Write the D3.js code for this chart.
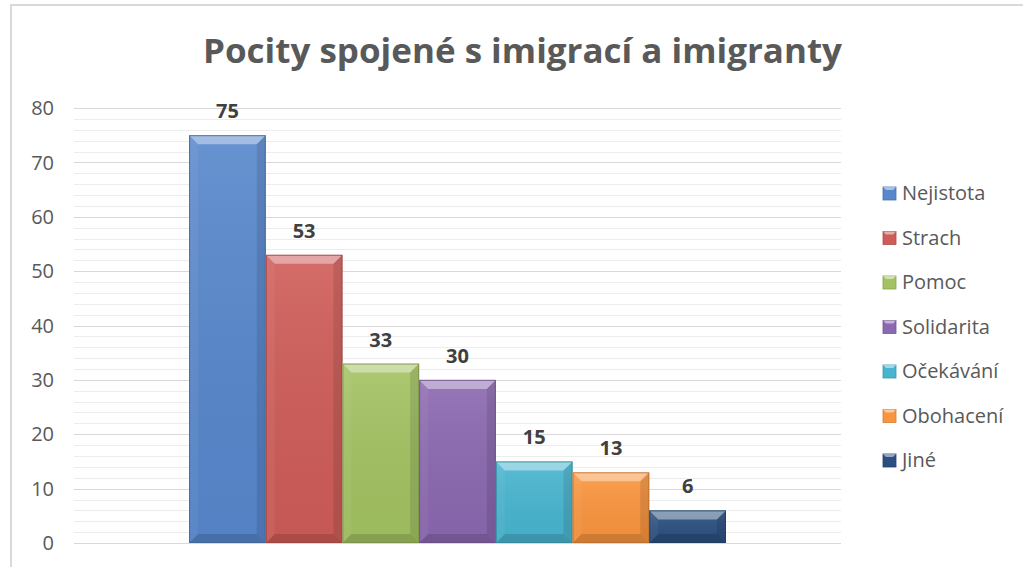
<!DOCTYPE html>
<meta charset="utf-8">
<style>
  body { margin: 0; background: #fff; }
  text { font-family: "Open Sans", "Liberation Sans", sans-serif; }
</style>
<body>
<script src="https://cdn.jsdelivr.net/npm/d3@7"></script>
<script>

// data
var categories = ["Nejistota", "Strach", "Pomoc", "Solidarita", "Očekávání", "Obohacení", "Jiné"];
var values = [75, 53, 33, 30, 15, 13, 6];
var colors = ["#5787cc", "#cf5c58", "#a3c262", "#8b68b0", "#48b5d0", "#fa953e", "#2b5080"];
var yTicks = [0, 10, 20, 30, 40, 50, 60, 70, 80];

var width = 1023, height = 567;

var svg = d3.select("body").append("svg")
    .attr("width", width)
    .attr("height", height);

svg.append("rect")
    .attr("width", width).attr("height", height)
    .attr("fill", "#fff");

// chart frame
svg.append("rect")
    .attr("x", 11).attr("y", 5)
    .attr("width", 1040).attr("height", 620)
    .attr("fill", "none")
    .attr("stroke", "#d9d9d9")
    .attr("stroke-width", 2);

svg.append("text")
    .attr("x", 203).attr("y", 63)
    .attr("textLength", 639)
    .attr("lengthAdjust", "spacingAndGlyphs")
    .attr("font-size", 34)
    .attr("font-weight", "bold")
    .attr("fill", "#595959")
    .text("Pocity spojené s imigrací a imigranty");

var plotLeft = 74, plotRight = 841, plotTop = 108, plotBottom = 543;

var y = d3.scaleLinear().domain([0, 80]).range([plotBottom, plotTop]);
var x = d3.scaleBand().domain(categories).range([plotLeft, plotRight])
    .paddingInner(0).paddingOuter(1.5);

// minor + major grid
svg.append("g").selectAll("line")
    .data(d3.range(0, 81, 2).filter(function(d) { return d % 10 != 0; }))
    .enter().append("line")
      .attr("x1", plotLeft).attr("x2", plotRight)
      .attr("y1", function(d) { return Math.round(y(d)) + 0.5; })
      .attr("y2", function(d) { return Math.round(y(d)) + 0.5; })
      .attr("stroke", "#ececec");

svg.append("g").selectAll("line")
    .data(yTicks)
    .enter().append("line")
      .attr("x1", plotLeft).attr("x2", plotRight)
      .attr("y1", function(d) { return Math.round(y(d)) + 0.5; })
      .attr("y2", function(d) { return Math.round(y(d)) + 0.5; })
      .attr("stroke", "#d9d9d9");

svg.append("g").selectAll("text")
    .data(yTicks)
    .enter().append("text")
      .attr("x", 54)
      .attr("y", function(d) { return y(d); })
      .attr("dy", "0.36em")
      .attr("text-anchor", "end")
      .attr("font-size", 20)
      .attr("fill", "#595959")
      .text(function(d) { return d; });

// bars with bevel
var defs = svg.append("defs");
var grad = defs.append("linearGradient")
    .attr("id", "shine").attr("x1", 0).attr("x2", 0).attr("y1", 0).attr("y2", 1);
grad.append("stop").attr("offset", 0).attr("stop-color", "#fff").attr("stop-opacity", 0.1);
grad.append("stop").attr("offset", 1).attr("stop-color", "#000").attr("stop-opacity", 0.04);

var bars = svg.append("g").selectAll("g")
    .data(categories.map(function(c, i) { return {name: c, value: values[i], color: colors[i]}; }))
    .enter().append("g");

bars.append("rect")
    .attr("x", function(d) { return x(d.name); })
    .attr("y", function(d) { return y(d.value); })
    .attr("width", x.bandwidth())
    .attr("height", function(d) { return plotBottom - y(d.value); })
    .attr("fill", function(d) { return d.color; });

bars.append("rect")
    .attr("x", function(d) { return x(d.name); })
    .attr("y", function(d) { return y(d.value); })
    .attr("width", x.bandwidth())
    .attr("height", function(d) { return plotBottom - y(d.value); })
    .attr("fill", "url(#shine)");

function bevel(d, side) {
  var x0 = x(d.name), x1 = x0 + x.bandwidth(), y0 = y(d.value), y1 = plotBottom;
  var b = Math.min(9, (y1 - y0) / 2);
  var pts;
  if (side == "top") pts = [[x0, y0], [x1, y0], [x1 - b, y0 + b], [x0 + b, y0 + b]];
  if (side == "left") pts = [[x0, y0], [x0 + b, y0 + b], [x0 + b, y1 - b], [x0, y1]];
  if (side == "right") pts = [[x1, y0], [x1 - b, y0 + b], [x1 - b, y1 - b], [x1, y1]];
  if (side == "bottom") pts = [[x0, y1], [x0 + b, y1 - b], [x1 - b, y1 - b], [x1, y1]];
  return pts.map(function(p) { return p.join(","); }).join(" ");
}

[["top", "#fff", 0.4], ["left", "#fff", 0.05], ["right", "#000", 0.1], ["bottom", "#000", 0.14]]
  .forEach(function(s) {
    bars.append("polygon")
        .attr("points", function(d) { return bevel(d, s[0]); })
        .attr("fill", s[1])
        .attr("fill-opacity", s[2]);
  });

bars.append("rect")
    .attr("x", function(d) { return x(d.name) + 0.5; })
    .attr("y", function(d) { return y(d.value) + 0.5; })
    .attr("width", x.bandwidth() - 1)
    .attr("height", function(d) { return plotBottom - y(d.value) - 1; })
    .attr("fill", "none")
    .attr("stroke", function(d) { return d3.color(d.color).darker(0.8); })
    .attr("stroke-opacity", 0.8);

bars.append("text")
    .attr("x", function(d) { return x(d.name) + x.bandwidth() / 2; })
    .attr("y", function(d) { return y(d.value) - 17; })
    .attr("text-anchor", "middle")
    .attr("font-size", 20)
    .attr("font-weight", "bold")
    .attr("fill", "#404040")
    .text(function(d) { return d.value; });

// legend
var ly = d3.scalePoint().domain(categories).range([193, 460]);

var legend = svg.append("g").selectAll("g")
    .data(categories.map(function(c, i) { return {name: c, color: colors[i]}; }))
    .enter().append("g")
      .attr("transform", function(d) { return "translate(883," + ly(d.name) + ")"; });

legend.append("rect")
    .attr("x", 0).attr("y", -6)
    .attr("width", 13).attr("height", 13)
    .attr("fill", function(d) { return d.color; })
    .attr("stroke", function(d) { return d3.color(d.color).darker(0.5); })
    .attr("stroke-width", 0.8);

legend.append("polygon")
    .attr("points", "0,-6 13,-6 10,-3 3,-3")
    .attr("fill", "#fff").attr("fill-opacity", 0.5);

legend.append("text")
    .attr("x", 19)
    .attr("dy", "0.36em")
    .attr("font-size", 20)
    .attr("fill", "#595959")
    .text(function(d) { return d.name; });

</script>
</body>
